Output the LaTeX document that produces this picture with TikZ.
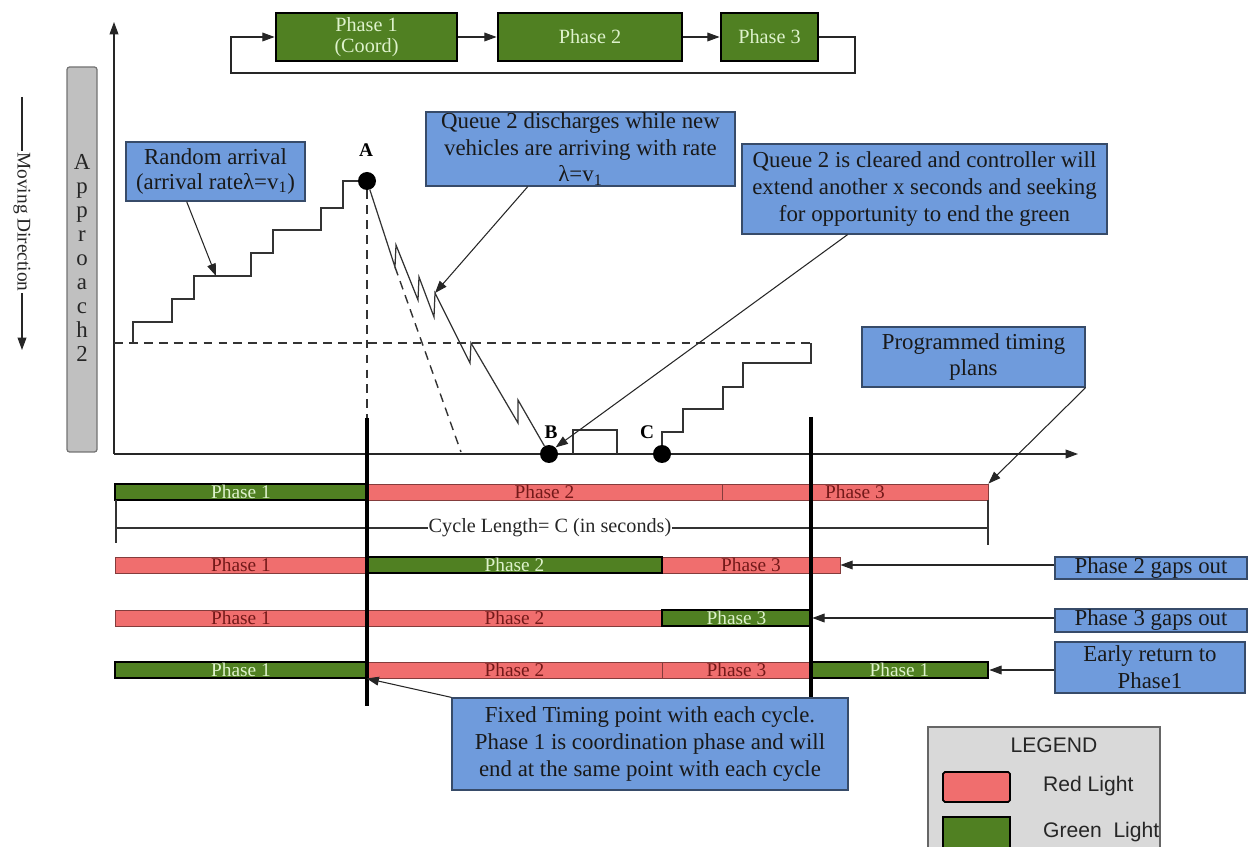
\documentclass[tikz,border=0pt]{standalone}
\usepackage{fontspec}
\setmainfont{Liberation Serif}
\newfontfamily\sansf{Liberation Sans}
\usetikzlibrary{arrows.meta,calc}
\definecolor{grn}{RGB}{80,128,34}
\definecolor{grntxt}{RGB}{222,242,204}
\definecolor{redf}{RGB}{240,110,110}
\definecolor{redtxt}{RGB}{115,25,25}
\definecolor{bluef}{RGB}{111,155,220}
\definecolor{blued}{RGB}{55,75,105}
\definecolor{grayf}{RGB}{192,192,192}
\definecolor{legf}{RGB}{217,217,217}
\newcommand\bx[7]{\node[#1, minimum width={(#3-#2)*0.02cm}, minimum height={(#5-#4)*0.02cm}] (#6) at ({(#2+#3)/2},{(#4+#5)/2}) {#7};}
\begin{document}
\begin{tikzpicture}[x=0.02cm,y=-0.02cm,
  topbox/.style={draw=black, line width=1.6pt, fill=grn, text=grntxt, inner sep=0pt, align=center, font=\fontsize{11.5}{12}\selectfont},
  gbar/.style={draw=black, line width=1.5pt, fill=grn, text=grntxt, inner sep=0pt, font=\fontsize{11}{11}\selectfont},
  rbar/.style={draw=redf!55!black, line width=0.5pt, fill=redf, text=redtxt, inner sep=0pt, font=\fontsize{11}{11}\selectfont},
  callout/.style={draw=blued, line width=0.7pt, fill=bluef, align=center, inner sep=0pt, text=black!90, font=\fontsize{13}{15.6}\selectfont},
  arr/.style={-{Triangle[length=7pt,width=5pt]}, line width=0.6pt, draw=black!85},
  thinln/.style={line width=0.7pt, draw=black!80},
  dashln/.style={line width=0.8pt, draw=black!80, dash pattern=on 5pt off 3.5pt},
  tline/.style={line width=1.8pt, draw=black},
  dot/.style={circle, fill=black, inner sep=0pt, minimum size=0.36cm},
  ptlbl/.style={font=\bfseries\fontsize{11}{11}\selectfont, inner sep=0pt}
]
\useasboundingbox (0,0) rectangle (1248,847);
\clip (0,0) rectangle (1248,847);

% ---------- top phase flow ----------
\bx{topbox}{276}{457}{13}{61}{p1}{Phase 1\\(Coord)}
\bx{topbox}{498}{682}{13}{61}{p2}{Phase 2}
\bx{topbox}{721}{818}{13}{61}{p3}{Phase 3}
\draw[arr] (p1) -- (p2);
\draw[arr] (p2) -- (p3);
\coordinate (loopr) at (855,73);
\coordinate (loopl) at (231,73);
\draw[arr] (p3.east) -| (loopr) -- (loopl) |- (p1.west);

% ---------- approach bar and moving direction ----------
\bx{fill=grayf, draw=black!55, rounded corners=1.5pt, inner sep=0pt, line width=0.7pt}{67}{97}{67}{452}{appr}{}
\node[font=\fontsize{13}{13.6}\selectfont, align=center, text=black!85] (apprtxt) at (82,258) {A\\p\\p\\r\\o\\a\\c\\h\\2};
\coordinate (md1) at (22,97);
\coordinate (md2) at (22,350);
\draw[arr] (md1) -- (md2);
\node[rotate=-90, fill=white, inner sep=1pt, font=\fontsize{11}{11}\selectfont, text=black!85] (mdtxt) at (22,222) {Moving Direction};

% ---------- axes ----------
\coordinate (O) at (114,454);
\coordinate (ytop) at (114,22);
\coordinate (xend) at (1078,454);
\draw[arr] (O) -- (ytop);
\draw[arr] (O) -- (xend);

% dashed reference level
\draw[dashln] (114,343) -- (811,343);

% arrival staircase
\node[dot] (A) at (367,181) {};
\node[ptlbl] (Alab) at (366,150) {A};
\draw[thinln] (133,343) |- (172,322) |- (194,299) |- (251,276) |- (273,253) |- (321,230) |- (343,208) |- (A);
\coordinate (s3) at (216,276);

% vertical from A
\coordinate (t1top) at (367,418);
\coordinate (t1bot) at (367,706);
\draw[dashln] (A) -- (t1top);

% discharge zigzag
\node[dot] (B) at (549,454) {};
\node[ptlbl] (Blab) at (551,432) {B};
\node[dot] (C) at (662,454) {};
\node[ptlbl] (Clab) at (647,432) {C};
\draw[thinln] (A) -- (395,267) -- (396,245) -- (418,300) -- (419,277) -- (434,317) -- (435,293) coordinate (q6) -- (470,363) -- (471,343) -- (518,423) -- (518,400) -- (B);
\draw[dashln] (395,267) -- (461,452);

% extension rectangle
\draw[thinln] (573,454) |- (617,430) -- (617,454);

% right staircase
\draw[thinln] (C) |- (683,432) |- (723,409) |- (743,387) |- (811,363) -- (811,343);

% ---------- timing bars ----------
% row 1
\bx{rbar}{367}{722}{484}{500}{r1b}{Phase 2}
\bx{rbar}{722}{988}{484}{500}{r1c}{Phase 3}
\bx{gbar}{115}{367}{484}{500}{r1a}{Phase 1}
% row 2
\bx{rbar}{115}{367}{557}{573}{r2a}{Phase 1}
\bx{rbar}{662}{840}{557}{573}{r2c}{Phase 3}
\bx{gbar}{367}{662}{557}{573}{r2b}{Phase 2}
% row 3
\bx{rbar}{115}{367}{610}{626}{r3a}{Phase 1}
\bx{rbar}{367}{662}{610}{626}{r3b}{Phase 2}
\bx{gbar}{662}{811}{610}{626}{r3c}{Phase 3}
% row 4
\bx{rbar}{367}{662}{662}{678}{r4b}{Phase 2}
\bx{rbar}{662}{811}{662}{678}{r4c}{Phase 3}
\bx{gbar}{115}{367}{662}{678}{r4a}{Phase 1}
\bx{gbar}{811}{988}{662}{678}{r4d}{Phase 1}

% cycle length
\coordinate (cl1) at (116,528);
\coordinate (cl2) at (988,528);
\draw[thinln] (116,500) -- (116,543);
\draw[thinln] (988,500) -- (988,545);
\draw[thinln] (cl1) -- (cl2);
\node[fill=white, inner sep=0.5pt, font=\fontsize{11.5}{11.5}\selectfont, text=black!85] (cltxt) at (550,528) {Cycle Length= C (in seconds)};

% timing lines
\draw[tline] (t1top) -- (t1bot);
\draw[tline] (811,417) -- (811,698);

% ---------- callouts ----------
\bx{callout, font=\fontsize{13}{14.2}\selectfont}{126}{305}{142}{201}{rand}{Random arrival\\(arrival rateλ=v\textsubscript{1})}
\draw[arr] ($(rand.south west)!0.34!(rand.south east)$) -- (s3);

\bx{callout}{426}{735}{112}{186}{qd}{}
\node[align=center, inner sep=0pt, text=black!90, font=\fontsize{13}{15.2}\selectfont] (qdt) at (qd) {Queue 2 discharges while new\\vehicles are arriving with rate\\λ=v\textsubscript{1}};
\draw[arr] ($(qd.south west)!0.33!(qd.south east)$) -- (q6);

\bx{callout}{742}{1107}{144}{234}{qc}{Queue 2 is cleared and controller will\\extend another x seconds and seeking\\for opportunity to end the green}
\draw[arr] ($(qc.south west)!0.29!(qc.south east)$) -- (B.north east);

\bx{callout, font=\fontsize{13}{14.8}\selectfont}{862}{1085}{327}{387}{pt}{Programmed timing\\plans}
\draw[arr] (pt.south east) -- (r1c.north east);

\bx{callout}{1055}{1247}{557}{579}{g2}{Phase 2 gaps out}
\draw[arr] (g2.west |- r2c.east) -- (r2c.east);
\bx{callout}{1055}{1247}{609}{632}{g3}{Phase 3 gaps out}
\draw[arr] (g3.west |- r3c.east) -- (r3c.east);
\bx{callout, font=\fontsize{13}{15.2}\selectfont}{1055}{1245}{642}{693}{er}{Early return to\\Phase1}
\draw[arr] (er.west |- r4d.east) -- (r4d.east);

\bx{callout}{452}{848}{698}{790}{ft}{Fixed Timing point with each cycle.\\Phase 1 is coordination phase and will\\end at the same point with each cycle}
\draw[arr] (ft.north west) -- (r4b.south west);

% ---------- legend ----------
\bx{fill=legf, draw=black!60, inner sep=0pt, line width=0.8pt}{928}{1160}{727}{870}{leg}{}
\node[font=\sansf\fontsize{12}{12}\selectfont, text=black!85] (legt) at (1054,745) {LEGEND};
\bx{fill=redf, draw=black, line width=1pt, rounded corners=1pt, inner sep=0pt}{943}{1010}{772}{802}{sw1}{}
\node[anchor=west, font=\sansf\fontsize{12}{12}\selectfont, text=black!85] (sw1t) at (1037,786) {Red Light};
\bx{fill=grn, draw=black, line width=1.5pt, inner sep=0pt}{943}{1010}{817}{860}{sw2}{}
\node[anchor=west, font=\sansf\fontsize{12}{12}\selectfont, text=black!85] (sw2t) at (1037,832) {Green~ Light};
\end{tikzpicture}
\end{document}
